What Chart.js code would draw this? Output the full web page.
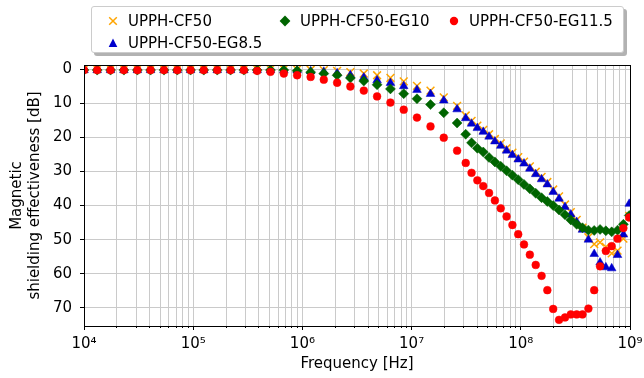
<!DOCTYPE html>
<html>
<head>
<meta charset="utf-8">
<script src="https://cdn.jsdelivr.net/npm/chart.js@4.4.0/dist/chart.umd.min.js"></script>
<style>
  html, body { margin: 0; padding: 0; background: #fff; }
  #wrap { position: relative; width: 644px; height: 378px; font-family: "DejaVu Sans", sans-serif; }
  #legendBox { position: absolute; left: 91px; top: 6px; width: 531px; height: 45px; background: #fff;
    border: 1px solid #cccccc; border-radius: 3px; box-shadow: 3px 3px 0 rgba(0,0,0,0.3); }
  .item { position: absolute; font-size: 15px; line-height: 18px; color: #000; white-space: nowrap; }
  .item svg { position: absolute; left: -22px; top: 2px; }
</style>
</head>
<body>
<div id="wrap">
  <canvas id="myChart" width="644" height="378"></canvas>
  <div id="legendBox"></div>
  <div class="item" style="left:128px; top:12px;">
    <svg width="14" height="14"><path d="M3.2 3.2 L10.8 10.8 M10.8 3.2 L3.2 10.8" stroke="#ffa500" stroke-width="1.5"/></svg>UPPH-CF50</div>
  <div class="item" style="left:128px; top:34px;">
    <svg width="14" height="14"><polygon points="7,2.6 11.3,11 2.7,11" fill="#0000cd"/></svg>UPPH-CF50-EG8.5</div>
  <div class="item" style="left:300px; top:12px;">
    <svg width="14" height="14"><polygon points="7,1.6 12.4,7 7,12.4 1.6,7" fill="#006400"/></svg>UPPH-CF50-EG10</div>
  <div class="item" style="left:469px; top:12px;">
    <svg width="14" height="14"><circle cx="7" cy="7" r="4.2" fill="#ff0000"/></svg>UPPH-CF50-EG11.5</div>
</div>
<script>
// frequency points [Hz]: low-band sweep + high-band sweep
const freqLow = [1.0e4, 1.32e4, 1.75e4, 2.32e4, 3.08e4, 4.07e4, 5.4e4, 7.15e4, 9.46e4,
  1.25e5, 1.66e5, 2.2e5, 2.91e5, 3.85e5, 5.1e5, 6.76e5, 8.95e5,
  1.19e6, 1.57e6, 2.08e6, 2.75e6, 3.65e6, 4.83e6, 6.4e6, 8.47e6,
  1.12e7, 1.49e7, 1.97e7, 2.61e7];
const freqHigh = [3.13e7, 3.54e7, 4.0e7, 4.53e7, 5.12e7, 5.79e7, 6.55e7, 7.41e7, 8.38e7, 9.47e7,
  1.07e8, 1.21e8, 1.37e8, 1.55e8, 1.75e8, 1.98e8, 2.24e8, 2.54e8, 2.87e8, 3.25e8,
  3.67e8, 4.16e8, 4.7e8, 5.32e8, 6.01e8, 6.8e8, 7.69e8, 8.7e8, 9.84e8];
const freq = freqLow.concat(freqHigh);

// shielding effectiveness [dB]
const seCF50 = [0, 0, 0, 0, 0, 0, 0, 0, 0, 0, 0, 0, 0, 0, 0, 0, 0.1, 0.2, 0.3, 0.5, 0.9, 1.3, 1.8, 2.6, 3.6, 4.9, 6.3, 8.3, 10.8,
  13.6, 15.2, 16.6, 17.8, 19.1, 20.5, 21.8, 23.2, 24.5, 25.8, 27.1, 28.5, 30.1, 31.6, 33.1, 35.3, 37.3, 39.7, 41.9, 44.2,
  46.5, 49.3, 51.3, 50.8, 52.1, 54.0, 53.2, 49.7, 43.0];
const seEG85 = [0.3, 0.3, 0.3, 0.3, 0.3, 0.3, 0.3, 0.3, 0.3, 0.3, 0.3, 0.3, 0.3, 0.3, 0.3, 0.3, 0.4, 0.6, 0.8, 1.2, 1.8, 2.5, 3.3, 4.1, 5.0, 6.1, 7.3, 9.2, 11.8,
  14.4, 16.0, 17.3, 18.4, 19.8, 21.2, 22.5, 23.9, 25.2, 26.5, 27.7, 29.2, 30.8, 32.3, 33.8, 36.0, 38.0, 40.4, 42.6, 44.8,
  47.1, 50.0, 54.2, 56.7, 58.1, 58.4, 54.5, 48.5, 39.5];
const seEG10 = [0.3, 0.3, 0.3, 0.3, 0.3, 0.3, 0.3, 0.3, 0.3, 0.3, 0.3, 0.3, 0.3, 0.3, 0.3, 0.3, 0.5, 0.9, 1.3, 1.8, 2.6, 3.5, 4.6, 5.8, 7.2, 8.7, 10.4, 12.8, 15.8,
  19.1, 21.6, 23.2, 24.3, 25.9, 27.2, 28.5, 29.8, 31.1, 32.4, 33.8, 35.1, 36.4, 37.7, 38.8, 40.0, 41.3, 42.7, 44.2, 45.5,
  46.5, 47.2, 47.3, 47.0, 47.4, 47.7, 47.2, 45.5, 42.9];
const seEG115 = [0.3, 0.3, 0.3, 0.3, 0.3, 0.3, 0.3, 0.3, 0.3, 0.3, 0.3, 0.3, 0.3, 0.5, 0.8, 1.3, 1.8, 2.3, 3.1, 4.0, 5.1, 6.3, 8.0, 9.8, 11.9, 14.2, 16.8, 20.1, 23.9,
  27.5, 30.4, 32.6, 34.3, 36.3, 38.5, 40.8, 43.2, 45.7, 48.4, 51.4, 54.4, 57.4, 60.6, 64.8, 70.3, 73.5, 72.8, 71.9, 71.9,
  71.9, 70.2, 64.8, 57.8, 53.3, 51.9, 49.7, 46.6, 43.5];

const xDecades = [1e4, 1e5, 1e6, 1e7, 1e8, 1e9];
const yTicks = [0, 10, 20, 30, 40, 50, 60, 70];

const sup = { '4': '\u2074', '5': '\u2075', '6': '\u2076', '7': '\u2077', '8': '\u2078', '9': '\u2079' };
const isDecade = (v) => Math.abs(Math.log10(v) - Math.round(Math.log10(v))) < 1e-9;
const toPoints = (vals) => vals.map((v, i) => ({ x: freq[i], y: v }));

// decades plus 2..9 minor positions
const xTickValues = [];
xDecades.forEach((d, i) => {
    if (i === xDecades.length - 1) { xTickValues.push(d); return; }
    for (let m = 1; m <= 9; m++) xTickValues.push(m * d);
});

const align = (p) => Math.round(p - 0.5) + 0.5;

const frameAndTicks = {
    id: 'frameAndTicks',
    afterDatasetsDraw(chart) {
        const { ctx, chartArea: a, scales: { x, y } } = chart;
        ctx.save();
        ctx.strokeStyle = '#000';
        ctx.lineWidth = 1;
        ctx.beginPath();
        x.ticks.forEach((t) => {
            const px = align(x.getPixelForValue(t.value));
            ctx.moveTo(px, a.bottom);
            ctx.lineTo(px, a.bottom + (isDecade(t.value) ? 4 : 2));
        });
        y.ticks.forEach((t) => {
            const py = align(y.getPixelForValue(t.value));
            ctx.moveTo(a.left, py);
            ctx.lineTo(a.left - 4, py);
        });
        ctx.stroke();
        ctx.strokeRect(align(a.left), align(a.top), Math.round(a.right - a.left), Math.round(a.bottom - a.top));
        ctx.restore();
    }
};

Chart.defaults.font.family = '"DejaVu Sans", sans-serif';
Chart.defaults.font.size = 15;
Chart.defaults.color = '#000';

new Chart(document.getElementById('myChart').getContext('2d'), {
    type: 'scatter',
    data: {
        datasets: [
            { label: 'UPPH-CF50', data: toPoints(seCF50), order: 3, pointStyle: 'crossRot', pointRadius: 5.5,
              borderColor: '#ffa500', backgroundColor: '#ffa500', borderWidth: 1.5, clip: 0 },
            { label: 'UPPH-CF50-EG8.5', data: toPoints(seEG85), order: 2, pointStyle: 'triangle', pointRadius: 5,
              borderColor: '#0000cd', backgroundColor: '#0000cd', borderWidth: 0.5, clip: 0 },
            { label: 'UPPH-CF50-EG10', data: toPoints(seEG10), order: 1, pointStyle: 'rectRot', pointRadius: 5,
              borderColor: '#006400', backgroundColor: '#006400', borderWidth: 0.5, clip: 0 },
            { label: 'UPPH-CF50-EG11.5', data: toPoints(seEG115), order: 0, pointStyle: 'circle', pointRadius: 3.9,
              borderColor: '#ff0000', backgroundColor: '#ff0000', borderWidth: 0.5, clip: 0 }
        ]
    },
    options: {
        responsive: false,
        animation: false,
        devicePixelRatio: 1,
        layout: { padding: { left: 4, right: 14, top: 65, bottom: 0 } },
        plugins: { legend: { display: false }, tooltip: { enabled: false } },
        elements: { point: { hoverRadius: 0 } },
        scales: {
            x: {
                type: 'logarithmic',
                min: 1e4,
                max: 1e9,
                afterBuildTicks: (scale) => { scale.ticks = xTickValues.map((v) => ({ value: v })); },
                afterFit: (scale) => { scale.height = 52; scale.paddingLeft = 0; scale.paddingRight = 0; },
                ticks: {
                    autoSkip: false,
                    maxRotation: 0,
                    padding: 9,
                    callback: (v) => isDecade(v) ? '10' + sup[String(Math.round(Math.log10(v)))] : ''
                },
                grid: { color: '#cacaca', lineWidth: 1, drawTicks: false },
                border: { display: false },
                title: { display: true, text: 'Frequency [Hz]', padding: { top: 0, bottom: 5 } }
            },
            y: {
                type: 'linear',
                reverse: true,
                min: -1.2,
                max: 75.3,
                afterBuildTicks: (scale) => { scale.ticks = yTicks.map((v) => ({ value: v })); },
                afterFit: (scale) => { scale.width = 80; scale.paddingTop = 0; scale.paddingBottom = 0; },
                ticks: { padding: 12 },
                grid: { color: '#cacaca', lineWidth: 1, drawTicks: false },
                border: { display: false },
                title: {
                    display: true,
                    text: ['Magnetic', 'shielding effectiveness [dB]'],
                    font: { lineHeight: 1.2 },
                    padding: { top: 4, bottom: 0 }
                }
            }
        }
    },
    plugins: [frameAndTicks]
});
</script>
</body>
</html>
